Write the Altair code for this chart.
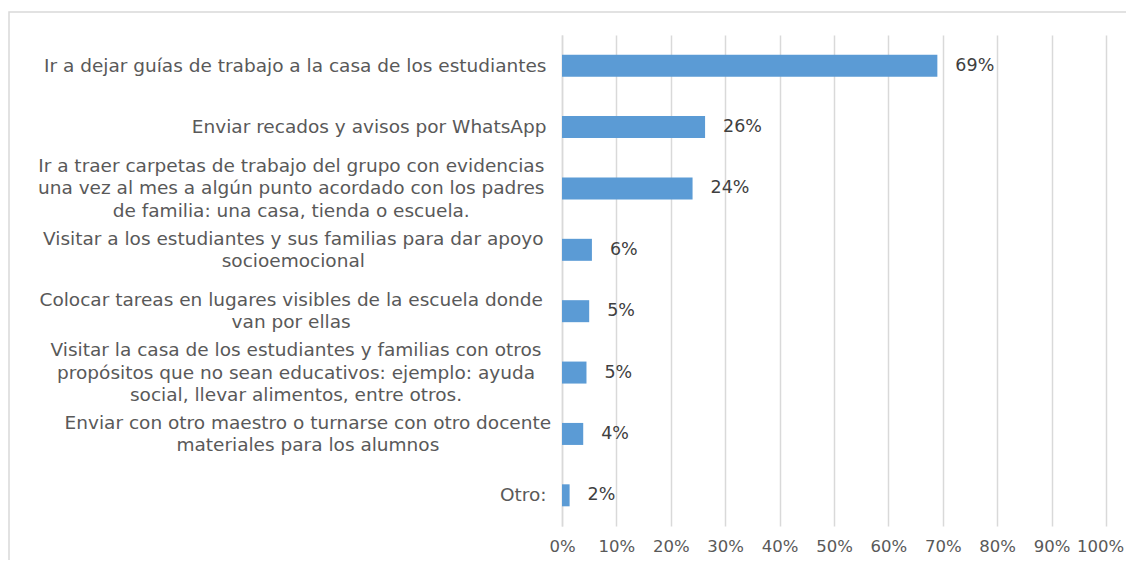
import altair as alt
import pandas as pd

categories = [
    "Ir a dejar guías de trabajo a la casa de los estudiantes",
    "Enviar recados y avisos por WhatsApp",
    "Ir a traer carpetas de trabajo del grupo con evidencias\nuna vez al mes a algún punto acordado con los padres\nde familia: una casa, tienda o escuela.",
    "Visitar a los estudiantes y sus familias para dar apoyo\nsocioemocional",
    "Colocar tareas en lugares visibles de la escuela donde\nvan por ellas",
    "Visitar la casa de los estudiantes y familias con otros\npropósitos que no sean educativos: ejemplo: ayuda\nsocial, llevar alimentos, entre otros.",
    "Enviar con otro maestro o turnarse con otro docente\nmateriales para los alumnos",
    "Otro:",
]
values = [0.69, 0.263, 0.24, 0.055, 0.05, 0.045, 0.039, 0.014]
value_labels = ["69%", "26%", "24%", "6%", "5%", "5%", "4%", "2%"]
tick_values = [0, 0.1, 0.2, 0.3, 0.4, 0.5, 0.6, 0.7, 0.8, 0.9, 1.0]

df = pd.DataFrame({"cat": categories, "val": values, "lab": value_labels})

FONT = "DejaVu Sans"
GRID = "#D9D9D9"
LH = 22.5
PAD = 16
YFS = 18.5

lines = 'split(datum.value, "\\n")'
nlines = f"length({lines})"


def est_width(s):
    narrow = f'length(replace({s}, regexp("[^ilíjtrf .,:]", "g"), ""))'
    wide = f'length(replace({s}, regexp("[^mwMW]", "g"), ""))'
    return (f"((length({s}) - {narrow} - {wide}) * 0.615 + {narrow} * 0.32 + "
            f"{wide} * 0.95) * {YFS}")


line_exprs = [f"{lines}[0]", f'({lines}[1] || "")', f'({lines}[2] || "")']
max_width = "max(" + ", ".join(est_width(s) for s in line_exprs) + ")"

x_enc = alt.X(
    "val:Q",
    scale=alt.Scale(domain=[0, 1], nice=False),
    axis=alt.Axis(
        format=".0%", values=tick_values, grid=True, gridColor=GRID,
        gridWidth=1.5, domain=False, ticks=False, labelPadding=12, labelFontSize=16.5,
        labelFont=FONT, labelColor="#595959", title=None, labelFlush=False,
        labelOffset=alt.expr("datum.value == 1 ? -6 : 0"),
    ),
)
y_enc = alt.Y(
    "cat:N",
    sort=categories,
    scale=alt.Scale(paddingInner=0, paddingOuter=0),
    axis=alt.Axis(
        title=None, labelExpr='split(datum.label, "\\n")', labelFont=FONT,
        labelFontSize=YFS, labelColor="#595959", labelLineHeight=LH,
        labelOffset=alt.expr(f"-({nlines} - 1) * {LH / 2}"),
        labelAlign=alt.expr(f'{nlines} > 1 ? "center" : "right"'),
        labelPadding=alt.expr(f"{nlines} > 1 ? {PAD} + {max_width} / 2 : {PAD}"),
        ticks=False, domain=True, domainColor=GRID, domainWidth=1.5,
        labelLimit=600, grid=False,
    ),
)

base = alt.Chart(df)
bars = base.mark_bar(color="#5B9BD5", size=22).encode(x=x_enc, y=y_enc)
texts = base.mark_text(align="left", dx=18, font=FONT, fontSize=17.5, color="#404040").encode(
    x="val:Q", y=alt.Y("cat:N", sort=categories), text="lab:N"
)
frame = alt.Chart(pd.DataFrame({"a": [0]})).mark_rect(
    fill=None, stroke=GRID, strokeWidth=1.5
).encode(x=alt.value(-553), x2=alt.value(700), y=alt.value(-23), y2=alt.value(700))

chart = (
    alt.layer(frame, bars, texts)
    .properties(
        width=544, height=491,
        autosize=alt.AutoSizeParams(type="none"),
        padding={"left": 554, "top": 27, "right": 20, "bottom": 34},
    )
    .configure_view(stroke=None)
)

chart.save("out.html", embed_options={"renderer": "svg", "actions": False})
